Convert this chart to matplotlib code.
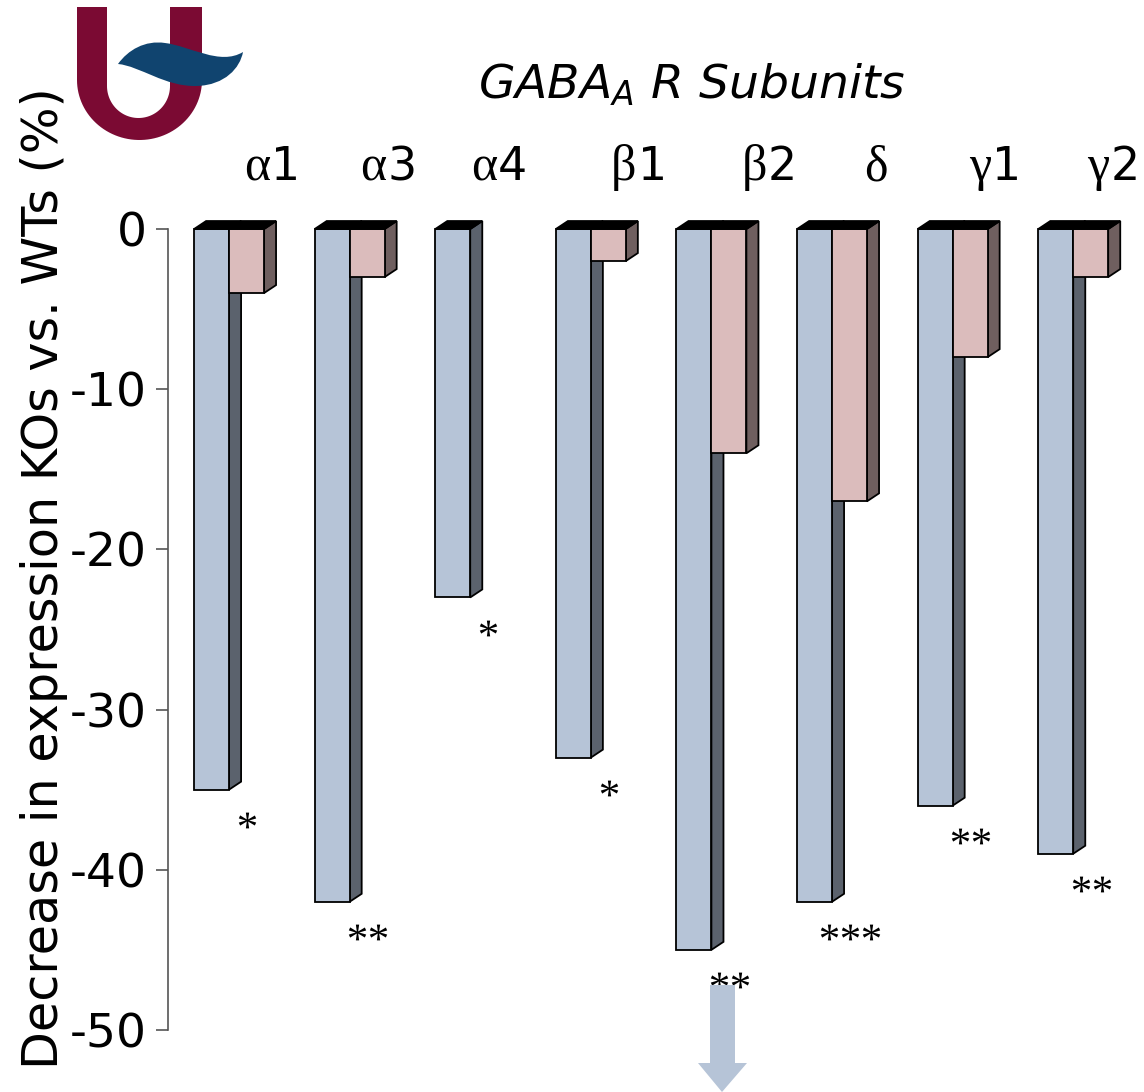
import numpy as np
import matplotlib
matplotlib.use("Agg")
import matplotlib.pyplot as plt
from matplotlib.patches import Polygon, PathPatch
from matplotlib.path import Path
from matplotlib.textpath import TextPath
from matplotlib.font_manager import FontProperties

plt.rcParams['axes.unicode_minus'] = False
plt.rcParams['font.family'] = ['DejaVu Sans']

# -----------------------------
# Data
# -----------------------------
subunits = ["α1", "α3", "α4", "β1", "β2", "δ", "γ1", "γ2"]
blue_vals = [-35, -42, -23, -33, -45, -42, -36, -39]
pink_vals = [-4, -3, None, -2, -14, -17, -8, -3]
stars = ["*", "**", "*", "*", "**", "***", "**", "**"]
yticks = [0, -10, -20, -30, -40, -50]

# layout nudges for the subunit labels (group units)
label_dx = [0.34, 0.30, 0.22, 0.38, 0.46, 0.36, 0.32, 0.30]

blue_front, blue_side = "#b6c4d7", "#5b626d"
pink_front, pink_side = "#dbbcbc", "#6f5f5f"

W = 1144
H = 1092
fig = plt.figure(figsize=(W / 100, H / 100), dpi=100)

# axes placed so that 0 sits at y=229px and -50 at y=1030px
ymin, ymax = -53.5, 2
ax = fig.add_axes([168 / W, 6 / H, (W - 168) / W, (1086 - 197) / H])
ax.set_ylim(ymin, ymax)
ax.set_xlim(-0.506, 7.587)

bw = 0.29          # front width of a bar
dx, dy = 0.1, 0.5  # depth offset


def bar3d(x0, v, front, side):
    ax.add_patch(Polygon([(x0 + bw, 0), (x0 + bw + dx, dy), (x0 + bw + dx, v + dy), (x0 + bw, v)],
                         closed=True, fc=side, ec="black", lw=1.3, joinstyle="miter"))
    ax.add_patch(Polygon([(x0, v), (x0 + bw, v), (x0 + bw, 0), (x0, 0)],
                         closed=True, fc=front, ec="black", lw=1.3, joinstyle="miter"))
    ax.add_patch(Polygon([(x0, 0), (x0 + dx, dy), (x0 + bw + dx, dy), (x0 + bw, 0)],
                         closed=True, fc="black", ec="black", lw=1.3, joinstyle="miter"))


# asterisk marker built from a serif glyph, centred on its ink
tp = TextPath((0, 0), "*", size=10, prop=FontProperties(family="Liberation Serif"))
codes = tp.codes
v = tp.vertices.copy()
real = codes != Path.CLOSEPOLY
v -= (v[real].min(axis=0) + v[real].max(axis=0)) / 2
v[~real] = 0
star_marker = Path(v, codes)

pitch = 0.175
for i in range(len(subunits)):
    bar3d(i - bw, blue_vals[i], blue_front, blue_side)
    if pink_vals[i] is not None:
        bar3d(i, pink_vals[i], pink_front, pink_side)
    # significance stars
    k = len(stars[i])
    xs = [i + 0.15 + (j - (k - 1) / 2) * pitch for j in range(k)]
    ax.plot(xs, [blue_vals[i] - 1.9] * k, ls="none", marker=star_marker, ms=12.5,
            mfc="black", mec="none", clip_on=False)
    # subunit labels: greek in serif, digit in sans
    lab = subunits[i]
    xl = i + label_dx[i]
    if len(lab) > 1:
        ax.text(xl, 3.06, lab[0], ha="right", va="baseline", fontsize=36,
                family=["Liberation Serif"], clip_on=False)
        ax.text(xl + 0.01, 3.06, lab[1:], ha="left", va="baseline", fontsize=33,
                clip_on=False)
    else:
        ax.text(xl, 3.06, lab, ha="center", va="baseline", fontsize=36,
                family=["Liberation Serif"], clip_on=False)

# axis styling
for s in ["top", "right", "bottom"]:
    ax.spines[s].set_visible(False)
ax.spines["left"].set_bounds(-50, 0)
ax.spines["left"].set_color("#555555")
ax.spines["left"].set_linewidth(1.2)
ax.set_xticks([])
ax.set_yticks(yticks)
ax.set_yticklabels([str(t) for t in yticks])
ax.tick_params(axis="y", direction="out", length=8.6, width=1.2, color="#555555",
               pad=6.5, labelsize=34)
ax.patch.set_alpha(0)

fig.text(44 / W, 1 - 578 / H, "Decrease in expression KOs vs. WTs (%)",
         rotation=90, ha="center", va="center", fontsize=35.5)
fig.text(692 / W, 1 - 98 / H, r"$GABA_A$ R Subunits", ha="center", va="baseline",
         fontsize=34, style="italic")

# -----------------------------
# Overlay in pixel coordinates: logo + arrow
# -----------------------------
ov = fig.add_axes([0, 0, 1, 1], zorder=5)
ov.set_xlim(0, W)
ov.set_ylim(H, 0)
ov.axis("off")
ov.patch.set_alpha(0)

# U of the logo
t_out = np.linspace(np.pi, 0, 60)
t_in = np.linspace(0, np.pi, 60)
outer = [(77, 7)] + [(139.5 + 62.5 * np.cos(t), 80 + 60 * np.sin(t)) for t in t_out] + [(202, 7)]
inner = [(170, 7)] + [(138.5 + 31.5 * np.cos(t), 86 + 32 * np.sin(t)) for t in t_in] + [(107, 7)]
ov.add_patch(Polygon(outer + inner, closed=True, fc="#7b0a33", ec="none"))

# wave of the logo
verts = [(118, 64),
         (128, 50), (145, 40), (165, 43),
         (190, 46), (220, 66), (243, 52),
         (240, 68), (225, 85), (197, 86),
         (165, 87), (140, 66), (118, 64),
         (118, 64)]
wcodes = [Path.MOVETO] + [Path.CURVE4] * 12 + [Path.CLOSEPOLY]
ov.add_patch(PathPatch(Path(verts, wcodes), fc="#10446f", ec="none"))

# arrow under beta2
ov.add_patch(Polygon([(710, 985), (735, 985), (735, 1063), (747, 1063), (722, 1092),
                      (698, 1063), (710, 1063)], closed=True, fc=blue_front, ec="none"))

fig.savefig("out.png", dpi=100)
